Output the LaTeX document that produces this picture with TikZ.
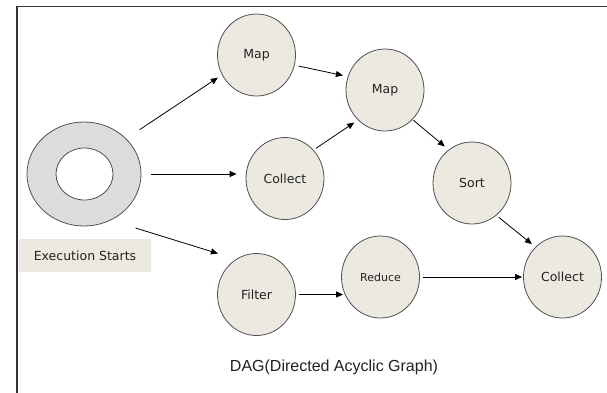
\documentclass[tikz,border=0pt]{standalone}
\usepackage{fontspec}
\setmainfont{DejaVu Sans}
\newfontfamily\dagfont{Liberation Sans}
\usetikzlibrary{shapes.geometric,arrows.meta}
\definecolor{nodefill}{HTML}{ECEAE0}
\definecolor{ringfill}{HTML}{DCDCDC}
\definecolor{edgegray}{HTML}{505050}
\definecolor{textgray}{HTML}{222222}
\begin{document}
\begin{tikzpicture}[x=1pt,y=-1pt,
  opnode/.style={ellipse, draw=edgegray, fill=nodefill, line width=0.8pt,
    minimum width=78pt, minimum height=82pt, inner sep=0pt, text=textgray,
    font=\fontsize{12.5}{14}\selectfont},
  conn/.style={-{Triangle[length=7pt,width=6pt]}, line width=0.8pt, black}]
\useasboundingbox (0,0) rectangle (607,392);
\fill[white] (0,0) rectangle (607,392);
\draw[line width=1.3pt, black!80] (17,400) -- (17,6.5) -- (612,6.5);

% start ring
\node[ellipse, draw=edgegray, fill=ringfill, line width=0.8pt,
  minimum width=114pt, minimum height=104pt, inner sep=0pt] (ring) at (84,174) {};
\node[ellipse, draw=edgegray, fill=white, line width=0.8pt,
  minimum width=57pt, minimum height=52pt, inner sep=0pt] (hole) at (84.5,174) {};
\node[fill=nodefill, minimum width=132pt, minimum height=33pt, inner sep=0pt,
  text=textgray, font=\fontsize{12.5}{14}\selectfont] (start) at (85,255.5) {Execution Starts};

% operation nodes
\node[opnode] (map1) at (256.5,55) {Map};
\node[opnode] (map2) at (385,90) {Map};
\node[opnode] (collect1) at (285,178.5) {Collect};
\node[opnode] (sort) at (472,183) {Sort};
\node[opnode] (collect2) at (562.5,277) {Collect};
\node[opnode] (filter) at (256.5,294.5) {Filter};
\node[opnode, font=\fontsize{11}{13}\selectfont] (reduce) at (380.5,277) {Reduce};

% connectors
\draw[conn, shorten <=16pt, shorten >=5pt] (ring.40) -- (map1.210);
\draw[conn, shorten <=10pt, shorten >=9pt] (ring.east) -- (ring.east -| collect1.west);
\draw[conn, shorten <=26pt, shorten >=19pt] (ring.-60) -- (filter.120);
\draw[conn, shorten <=4pt, shorten >=5pt] (map1.-15) -- (map2.160);
\draw[conn, shorten <=3pt, shorten >=4.5pt] (collect1.45) -- (map2.228);
\draw[conn, shorten <=1pt, shorten >=5pt] (map2.-47) -- (sort.125);
\draw[conn, shorten <=3pt, shorten >=4.5pt] (sort.-53) -- (collect2.132);
\draw[conn, shorten <=3pt, shorten >=-2pt] (filter.east) -- (filter.east -| reduce.west);
\draw[conn, shorten <=3pt, shorten >=1pt] (reduce.east) -- (collect2.west);

\node[font=\dagfont\fontsize{16}{18}\selectfont, text=textgray] (caption) at (334,367) {DAG(Directed Acyclic Graph)};
\end{tikzpicture}
\end{document}
